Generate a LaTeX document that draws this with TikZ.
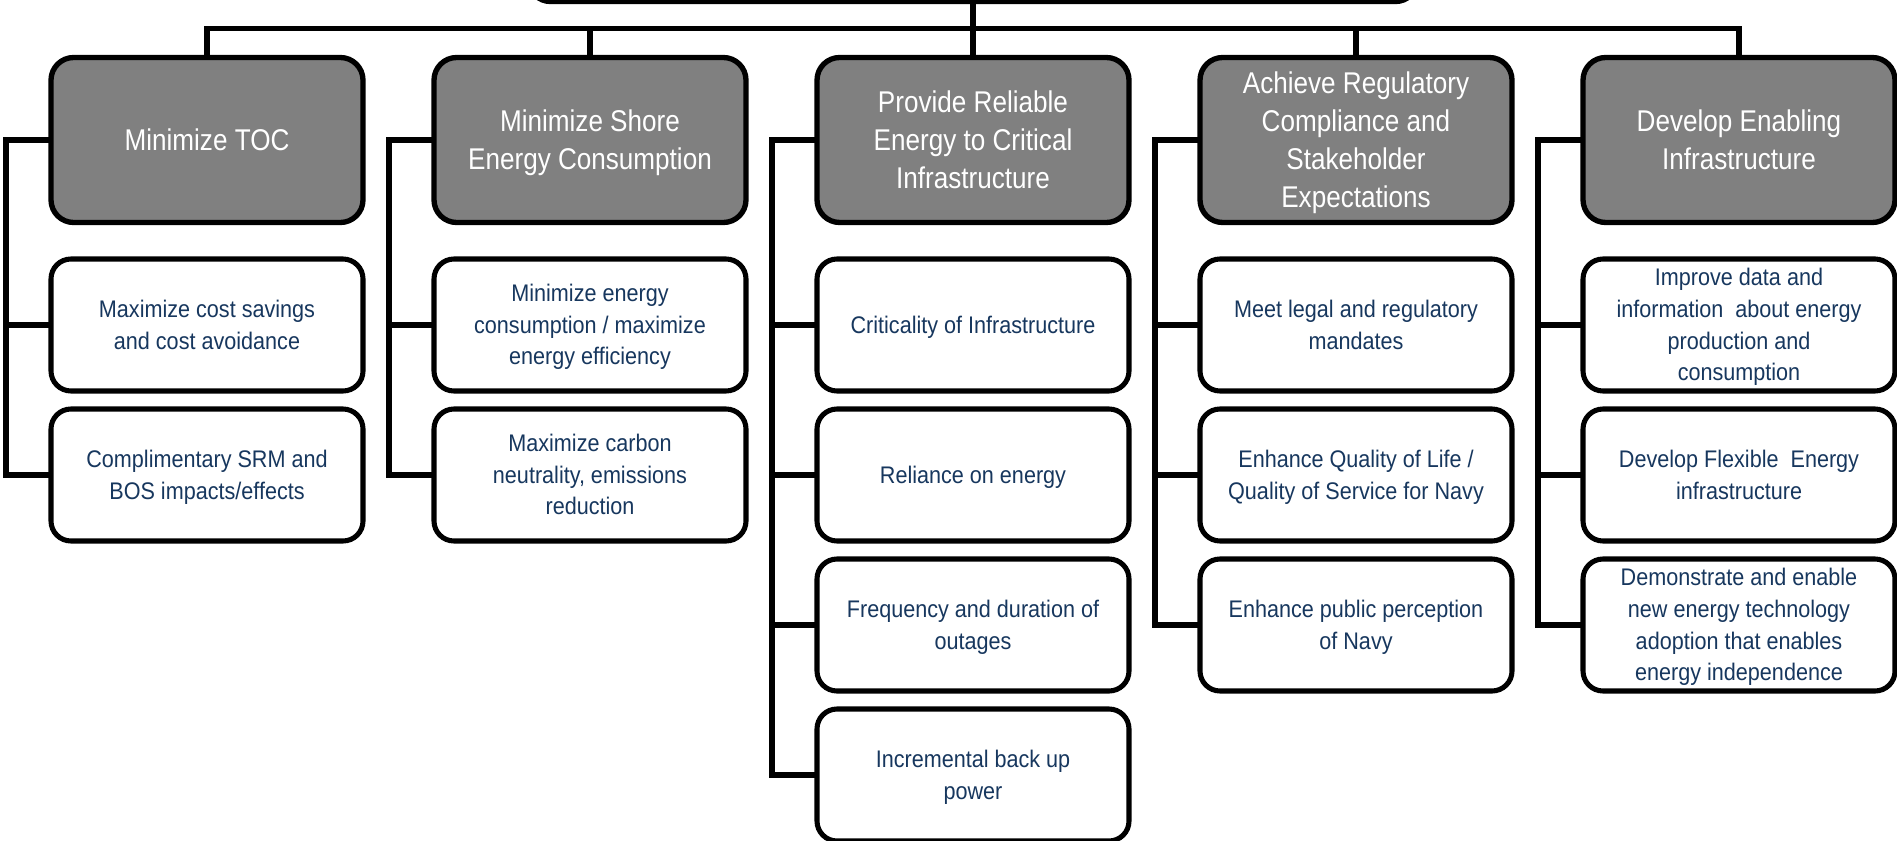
\documentclass[tikz,border=0pt]{standalone}
\usepackage{fontspec}
\setmainfont{Liberation Sans}
\newfontfamily\headfont{Liberation Sans}[FakeStretch=0.87]
\newfontfamily\subfont{Liberation Sans}[FakeStretch=0.9]
\definecolor{headgray}{RGB}{128,128,128}
\definecolor{navytext}{RGB}{23,55,94}
\newcommand\st{\rule[-0.212em]{0pt}{1.117em}}
\tikzset{
  conn/.style={line width=4pt, line join=miter},
  topbox/.style={draw, line width=4pt, rounded corners=16pt, fill=white,
    minimum width=666pt, minimum height=60pt, inner sep=0pt, outer sep=0pt},
  headbox/.style={draw, line width=4pt, rounded corners=17pt, fill=headgray,
    minimum width=234pt, minimum height=123.75pt, inner sep=0pt, outer sep=0pt,
    align=center, text=white, font=\headfont\fontsize{22.5}{28.4}\selectfont,
    anchor=north west},
  subbox/.style={draw, line width=3.8pt, rounded corners=15pt, fill=white,
    minimum width=234pt, minimum height=99pt, inner sep=0pt, outer sep=0pt,
    align=center, text=navytext, font=\subfont\fontsize{18}{23.7}\selectfont,
    anchor=north west}
}
\begin{document}
\begin{tikzpicture}[x=0.75pt,y=-0.75pt]
\useasboundingbox (0,0) rectangle (1897,841);
% top box (only bottom visible)
\node[topbox, anchor=south] (top) at (973,1.5) {};
% headers
\node[headbox] (h1) at (51,57.5) {\st Minimize TOC\st};
\node[headbox] (h2) at (434,57.5) {\st Minimize Shore\\Energy Consumption\st};
\node[headbox] (h3) at (817,57.5) {\st Provide Reliable\\Energy to Critical\\Infrastructure\st};
\node[headbox] (h4) at (1200,57.5) {\st Achieve Regulatory\\Compliance and\\Stakeholder\\Expectations\st};
\node[headbox] (h5) at (1583,57.5) {\st Develop Enabling\\Infrastructure\st};
% column 1
\node[subbox] (c11) at (51,259) {\st Maximize cost savings\\and cost avoidance\st};
\node[subbox] (c12) at (51,409) {\st Complimentary SRM and\\BOS impacts/effects\st};
% column 2
\node[subbox] (c21) at (434,259) {\st Minimize energy\\consumption / maximize\\energy efficiency\st};
\node[subbox] (c22) at (434,409) {\st Maximize carbon\\neutrality, emissions\\reduction\st};
% column 3
\node[subbox] (c31) at (817,259) {\st Criticality of Infrastructure\st};
\node[subbox] (c32) at (817,409) {\st Reliance on energy\st};
\node[subbox] (c33) at (817,559) {\st Frequency and duration of\\outages\st};
\node[subbox] (c34) at (817,709) {\st Incremental back up\\power\st};
% column 4
\node[subbox] (c41) at (1200,259) {\st Meet legal and regulatory\\mandates\st};
\node[subbox] (c42) at (1200,409) {\st Enhance Quality of Life /\\Quality of Service for Navy\st};
\node[subbox] (c43) at (1200,559) {\st Enhance public perception\\of Navy\st};
% column 5
\node[subbox] (c51) at (1583,259) {\st Improve data and\\information~ about energy\\production and\\consumption\st};
\node[subbox] (c52) at (1583,409) {\st Develop Flexible~ Energy\\infrastructure\st};
\node[subbox] (c53) at (1583,559) {\st Demonstrate and enable\\new energy technology\\adoption that enables\\energy independence\st};
% top connectors
\foreach \h in {h1,h2,h3,h4,h5}
  \draw[conn] (top.south) -- ++(0,27) -| (\h.north);
% brackets
\draw[conn] (h1.west) -- ++(-45,0) |- (c12.west);
\draw[conn] (c11.west) -- ++(-45,0);
\draw[conn] (h2.west) -- ++(-45,0) |- (c22.west);
\draw[conn] (c21.west) -- ++(-45,0);
\draw[conn] (h3.west) -- ++(-45,0) |- (c34.west);
\draw[conn] (c31.west) -- ++(-45,0);
\draw[conn] (c32.west) -- ++(-45,0);
\draw[conn] (c33.west) -- ++(-45,0);
\draw[conn] (h4.west) -- ++(-45,0) |- (c43.west);
\draw[conn] (c41.west) -- ++(-45,0);
\draw[conn] (c42.west) -- ++(-45,0);
\draw[conn] (h5.west) -- ++(-45,0) |- (c53.west);
\draw[conn] (c51.west) -- ++(-45,0);
\draw[conn] (c52.west) -- ++(-45,0);
\end{tikzpicture}
\end{document}
